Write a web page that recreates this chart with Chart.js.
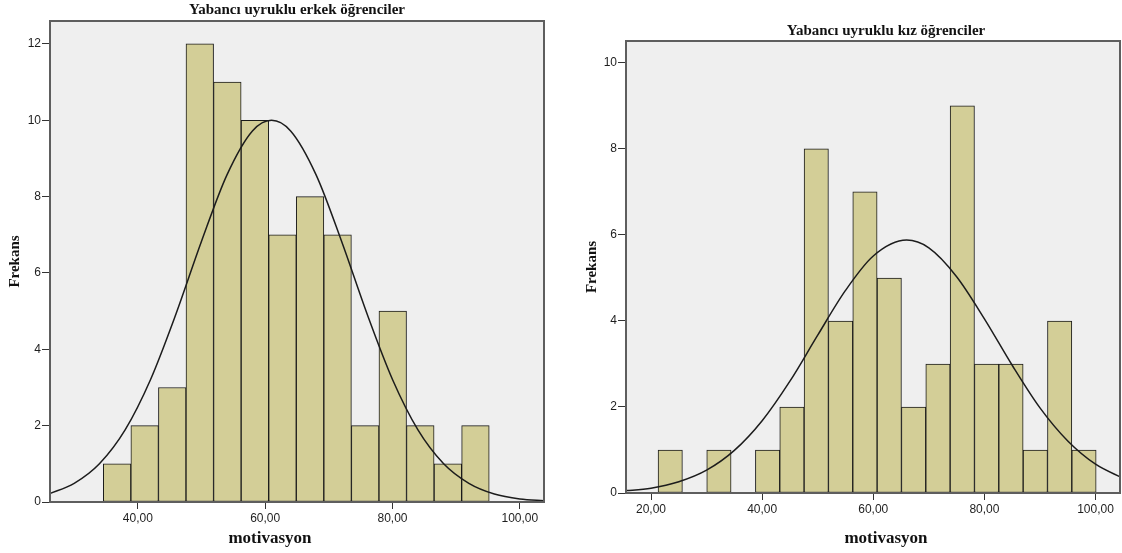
<!DOCTYPE html>
<html>
<head>
<meta charset="UTF-8">
<title>motivasyon</title>
<script src="https://cdn.jsdelivr.net/npm/chart.js@4.4.0/dist/chart.umd.min.js"></script>
<style>
  body { margin: 0; background: #fff; width: 1122px; height: 553px; overflow: hidden; position: relative; }
  canvas { position: absolute; top: 0; }
  #erkek { left: 0; }
  #kiz { left: 560px; }
</style>
</head>
<body>
<canvas id="erkek" width="560" height="553"></canvas>
<canvas id="kiz" width="562" height="553"></canvas>

<script>
// erkek: bin centres (width ~4.33) and frequencies
const erkekBins = [36.74, 41.07, 45.40, 49.73, 54.06, 58.39, 62.72, 67.05, 71.38, 75.71, 80.04, 84.37, 88.70, 93.03];
const erkekFreq = [1, 2, 3, 12, 11, 10, 7, 8, 7, 2, 5, 2, 1, 2];
// erkek: normal curve read along the x axis
const erkekCurveX = [26, 30, 34, 38, 42, 46, 50, 54, 58, 61, 64, 68, 72, 76, 80, 84, 88, 92, 96, 100, 104];
const erkekCurveY = [0.21, 0.49, 1.01, 1.89, 3.21, 4.93, 6.83, 8.57, 9.72, 10.0, 9.72, 8.57, 6.83, 4.93, 3.21, 1.89, 1.01, 0.49, 0.21, 0.08, 0.03];

// kiz: bin centres (width ~4.38) and frequencies
const kizBins = [23.46, 27.84, 32.22, 36.60, 40.98, 45.36, 49.74, 54.12, 58.50, 62.88, 67.26, 71.64, 76.02, 80.40, 84.78, 89.16, 93.54, 97.92];
const kizFreq = [1, 0, 1, 0, 1, 2, 8, 4, 7, 5, 2, 3, 9, 3, 3, 1, 4, 1];
const kizCurveX = [15, 20, 25, 30, 35, 40, 45, 50, 55, 60, 66, 70, 75, 80, 85, 90, 95, 100, 105];
const kizCurveY = [0.05, 0.11, 0.26, 0.53, 0.99, 1.68, 2.60, 3.67, 4.71, 5.51, 5.88, 5.70, 5.03, 4.05, 2.97, 1.98, 1.21, 0.67, 0.34];

const xTickStep = 20;
const yTickStep = 2;

const SERIF = '"Liberation Serif", "DejaVu Serif", serif';
const SANS = '"Liberation Sans", "DejaVu Sans", sans-serif';

// plot background, frame and the serif titles
const frame = {
  id: 'frame',
  beforeDraw(chart, args, o) {
    const a = chart.chartArea, ctx = chart.ctx;
    ctx.save();
    ctx.fillStyle = '#efefef';
    ctx.fillRect(a.left, a.top, a.right - a.left, a.bottom - a.top);
    ctx.restore();
  },
  afterDatasetsDraw(chart, args, o) {
    const a = chart.chartArea, ctx = chart.ctx;
    ctx.save();
    ctx.strokeStyle = '#5e5e5e';
    ctx.lineWidth = 2;
    ctx.strokeRect(a.left, a.top, a.right - a.left, a.bottom - a.top);
    ctx.fillStyle = '#111';
    ctx.textAlign = 'center';
    ctx.textBaseline = 'middle';
    ctx.font = 'bold 15px ' + SERIF;
    ctx.fillText(o.title, o.titleX, o.titleY);
    ctx.font = 'bold 17px ' + SERIF;
    ctx.fillText(o.xTitle, o.xTitleX, o.xTitleY);
    ctx.restore();
  }
};

function histogram(id, s) {
  const bars = s.bins.map((x, i) => ({ x: x, y: s.freq[i] || null }));
  const curve = s.curveX.map((x, i) => ({ x: x, y: s.curveY[i] }));
  return new Chart(document.getElementById(id), {
    type: 'bar',
    data: {
      datasets: [
        {
          type: 'line',
          data: curve,
          borderColor: '#1c1c1c',
          borderWidth: 1.5,
          pointRadius: 0,
          cubicInterpolationMode: 'monotone',
          order: 0
        },
        {
          data: bars,
          backgroundColor: '#d3ce97',
          borderColor: '#1a1a1a',
          borderWidth: 1,
          borderSkipped: false,
          barPercentage: 1,
          categoryPercentage: 1,
          order: 1
        }
      ]
    },
    options: {
      responsive: false,
      animation: false,
      layout: { padding: { top: s.top, right: s.right, left: 0, bottom: 0 } },
      plugins: {
        legend: { display: false },
        tooltip: { enabled: false },
        frame: {
          title: s.title, titleX: s.titleX, titleY: s.titleY,
          xTitle: 'motivasyon', xTitleX: s.xTitleX, xTitleY: 539
        }
      },
      scales: {
        x: {
          type: 'linear',
          min: s.xMin,
          max: s.xMax,
          offset: false,
          afterFit: sc => { sc.height = s.xHeight; },
          border: { display: false },
          grid: { offset: false, drawOnChartArea: false, drawTicks: true, tickLength: 7, color: '#333' },
          ticks: {
            stepSize: xTickStep,
            includeBounds: false,
            padding: 2,
            color: '#1e1e1e',
            font: { family: SANS, size: 12 },
            callback: v => v.toFixed(2).replace('.', ',')
          }
        },
        y: {
          min: 0,
          max: s.yMax,
          afterFit: sc => { sc.width = s.yWidth; },
          border: { display: false },
          grid: { drawOnChartArea: false, drawTicks: true, tickLength: 8, color: '#333' },
          ticks: {
            stepSize: yTickStep,
            includeBounds: false,
            padding: 1,
            color: '#1e1e1e',
            font: { family: SANS, size: 12 }
          },
          title: {
            display: true,
            text: 'Frekans',
            color: '#111',
            padding: { top: s.yTitlePad, bottom: 0 },
            font: { family: SERIF, size: 15, weight: 'bold' }
          }
        }
      }
    },
    plugins: [frame]
  });
}

histogram('erkek', {
  bins: erkekBins, freq: erkekFreq, curveX: erkekCurveX, curveY: erkekCurveY,
  xMin: 26.2, xMax: 103.8, yMax: 12.6,
  top: 21, right: 16, xHeight: 51, yWidth: 50, yTitlePad: 6,
  title: 'Yabancı uyruklu erkek öğrenciler', titleX: 297, titleY: 10, xTitleX: 270
});

histogram('kiz', {
  bins: kizBins, freq: kizFreq, curveX: kizCurveX, curveY: kizCurveY,
  xMin: 15.5, xMax: 104.4, yMax: 10.51,
  top: 41, right: 2, xHeight: 60, yWidth: 66, yTitlePad: 23,
  title: 'Yabancı uyruklu kız öğrenciler', titleX: 326, titleY: 31, xTitleX: 326
});
</script>
</body>
</html>
